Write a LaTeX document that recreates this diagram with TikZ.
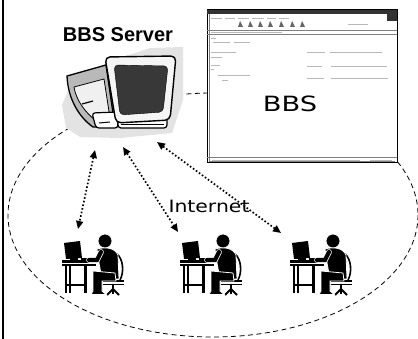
\documentclass[tikz,border=0pt]{standalone}
\usepackage{fontspec}
\setmainfont{DejaVu Sans}
\newfontfamily\headfont{Liberation Sans}
\usetikzlibrary{arrows.meta}

\tikzset{
  net/.style={line width=0.8pt, dash pattern=on 5pt off 3.5pt},
  link/.style={line width=1.7pt, dash pattern=on 1.6pt off 2.1pt,
    {Triangle[length=8pt,width=7pt]}-{Triangle[length=8pt,width=7pt]}},
  textline/.style={gray!55, line width=0.9pt},
  user/.pic={
    % desk with screen
    \fill (2,10) -- (18,8) -- (20,25) -- (4,26) -- cycle;
    \fill (8,25) rectangle (16,27.5);
    \fill (0,27) rectangle (34,30);
    \fill (0,31.3) rectangle (34,33);
    \fill (3,33) rectangle (5,60);
    \fill (7,33) rectangle (9,60);
    \fill (22,33) rectangle (25,60);
    \fill (3,51) rectangle (25,53);
    \draw[line width=1.2pt] (19,26) -- (30,26);
    % chair
    \draw[line width=1.6pt] (54,20) .. controls (62,26) and (62,40) .. (58,47);
    \draw[line width=1.6pt] (41,48) -- (62,48);
    \draw[line width=1.6pt] (41,51.5) -- (62,51.5);
    \draw[line width=1.8pt] (51,51) -- (51,56) (45,62) -- (51,56) -- (57,62) (51,56) -- (51,61);
    % person
    \filldraw[draw=white, line width=0.8pt] (43,8) circle (7);
    \filldraw[draw=white, line width=0.8pt] (35,16) .. controls (44,13.5) and (53,15) .. (56,22)
      -- (57,46) -- (40,46) -- (37,30) -- cycle;
    \draw[white, line width=5.6pt, line cap=round] (39,19) -- (35,27) -- (27,27);
    \draw[line width=4.2pt, line cap=round] (39,19) -- (35,27) -- (27,27);
    \filldraw[draw=white, line width=0.8pt] (31,38) -- (53,40) -- (54,48) -- (40,48) -- (40,58)
      -- (44,61.5) -- (29,61.5) -- (31,58) -- cycle;
  }
}

\begin{document}
\begin{tikzpicture}[x=1pt,y=-1pt]
\useasboundingbox (0,0) rectangle (418,339);
\draw[line width=1.5pt] (3,0) -- (3,339);

% network around the server and users
\draw[net] (213,215) ellipse [x radius=205, y radius=122];

% server
\fill[gray!22] (66,128) -- (62,105) -- (72,82) -- (108,62) -- (150,48) -- (183,47)
  -- (183,100) -- (172,133) -- (120,138) -- (80,137) -- cycle;
\filldraw[fill=gray!55, line width=1.3pt] (67,76) -- (106,65) -- (115,127) -- (93,127)
  .. controls (80,118) and (68,100) .. cycle;
\filldraw[fill=gray!12, line width=0.8pt] (74,87) -- (104,79) -- (110,118) -- (95,120)
  .. controls (85,112) and (76,100) .. cycle;
\draw[line width=1.2pt] (82,104) -- (93,101);
\filldraw[fill=white, line width=1.2pt, rounded corners=3pt] (92,113) -- (117,112) -- (118,128) -- (96,128) -- cycle;
\draw[line width=1pt] (99,123) -- (110,122);
\filldraw[fill=white, line width=1.2pt, rounded corners=3pt] (118,116) rectangle (167,128);
\draw[line width=0.6pt] (121,124) -- (164,124);
\filldraw[fill=gray!8, line width=1.4pt, rounded corners=5pt] (105,57) -- (176,56) -- (170,120) -- (116,123) -- cycle;
\filldraw[fill=black!78, rounded corners=4pt] (114,65) -- (168,66) -- (163,112) -- (120,115) -- cycle;
\node (title) at (118,35) {\headfont\bfseries\fontsize{20}{24}\selectfont BBS Server};

\coordinate (srv-a) at (95,150);
\coordinate (srv-b) at (123,147);
\coordinate (srv-c) at (157,142);

% board window
\filldraw[fill=white, line width=1pt] (207,10) rectangle (397,163);
\draw[gray, line width=0.5pt] (209,12) -- (209,161) -- (395,161);
\fill[black!80] (207,10) rectangle (397,14.5);
\fill[black!80] (387,10) rectangle (397,21);
\foreach \a/\b in {211/222,225/235,238/249,252/264,267/276,279/289}
  \draw[textline] (\a,18.5) -- (\b,18.5);
\foreach \x in {238,248,258,268,279,290,300}
  \fill[black!60] (\x,27) -- (\x+2,21) -- (\x+5,27) -- cycle;
\draw[textline] (348,24) -- (368,24);
\draw[gray, line width=0.5pt] (207,30) -- (397,30) (207,34.5) -- (397,34.5);
\draw[textline, line width=0.7pt] (211,32.3) -- (282,32.3);
\foreach \a/\b/\y in {211/216/38, 213/230/42, 234/250/42, 211/236/52, 211/222/57,
    211/220/65, 211/214/69, 218/250/75, 222/228/80,
    307/325/52, 330/382/52, 307/322/66, 331/387/66, 307/324/78, 331/388/78}
  \draw[textline] (\a,\y) -- (\b,\y);
\draw[gray, line width=0.5pt] (207,157) -- (397,157);
\draw[textline, line width=0.7pt] (212,160) -- (360,160) (370,160) -- (392,160);
\node[xscale=1.3] (bbs) at (290,104) {\fontsize{21}{24}\selectfont BBS};

% users
\pic at (62,233) {user};
\pic at (180,233) {user};
\pic at (290,233) {user};
\coordinate (pc1) at (78,229);
\coordinate (pc2) at (178,232);
\coordinate (pc3) at (281,233);

\node[xscale=1.2] (net) at (209,206) {\fontsize{17}{20}\selectfont Internet};

\draw[link] (srv-a) -- (pc1);
\draw[link] (srv-b) -- (pc2);
\draw[link] (srv-c) -- (pc3);
\end{tikzpicture}
\end{document}
